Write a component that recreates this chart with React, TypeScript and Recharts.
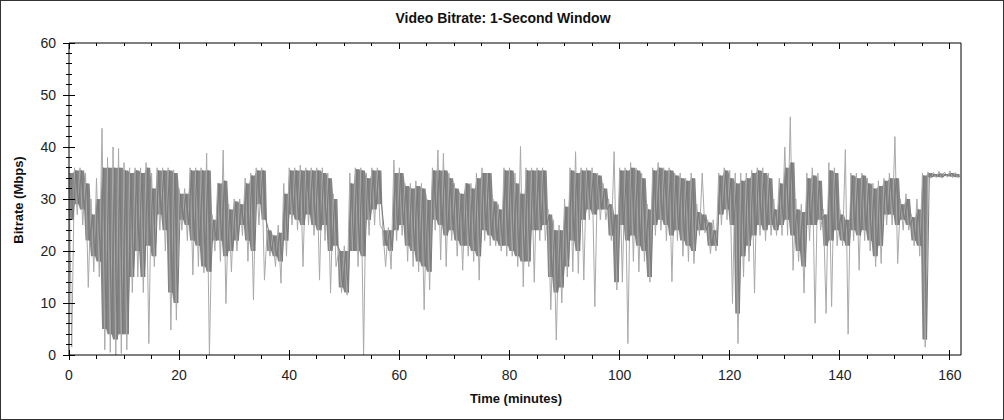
import React from "react";
import { ComposedChart, Area, Line, XAxis, YAxis } from "recharts";

// per-minute readings (Mbps): spike extremes and the dense core band
const peak = [
	36, 36, 36, 35, 30, 34, 43.6, 38, 40, 39.7,
	37, 36, 36, 36, 37, 35, 36, 36, 36, 35.6,
	32, 32, 36, 36, 36, 38.8, 27, 33, 39.4, 29,
	30, 30, 34, 35, 36, 36, 24, 23, 25, 33,
	36, 36, 36.5, 36, 36, 36, 36, 35, 31, 20,
	21, 35, 36, 36, 35, 36, 36, 24, 24.5, 37.5,
	36, 33, 33, 33.5, 33, 30, 36, 39.4, 38.8, 35,
	33, 31, 33, 33, 35, 36, 35, 30, 29, 36,
	36, 35, 40.1, 36, 36, 36, 36, 28, 26, 25,
	30, 36, 39.1, 36, 36, 36, 35, 33, 30, 39.1,
	36, 36, 37, 36, 35, 29, 36, 37, 36, 36,
	35, 35, 34, 35, 29, 35, 26, 26, 35, 36,
	35.5, 35, 35, 35, 35.5, 36, 36, 35, 30, 34,
	40, 45.8, 30, 29, 35, 36, 35, 28, 37, 36,
	28, 39.5, 35, 35, 35, 34, 33, 33.5, 34, 35,
	42, 30, 31, 27, 30, 35, 35.2, 35.1, 35.3, 35.2, 35.4, 35.1,
];

const upper = [
	35, 35.5, 35.5, 33, 27, 30, 36, 36, 36, 36,
	35.5, 35, 35.5, 35, 36, 32, 35.5, 35.5, 35.5, 35,
	31, 31, 35.5, 35.5, 35.5, 35.5, 26, 33, 33.5, 28,
	29.5, 29, 33, 34.5, 35.5, 35.5, 24, 23, 23.5, 31,
	35.5, 35.5, 35.5, 35.5, 35.5, 35.5, 35, 34, 30, 20,
	20, 33, 35.7, 35.5, 34, 35.5, 35.5, 24, 24, 35,
	35, 32.5, 32, 32.5, 32, 29.8, 35.5, 35.5, 35.5, 34,
	32, 31, 33, 32, 34, 35, 35, 29.5, 28, 35.5,
	35.5, 33, 31, 35.5, 35.5, 35.5, 35.5, 27, 24, 24,
	28.5, 35.5, 35, 35.5, 35.5, 35, 34.5, 32, 29, 27,
	35.5, 35.5, 36, 35.5, 34, 28, 35.5, 36, 35.5, 35.5,
	34.5, 34, 33.5, 34, 27.5, 27, 25.5, 24, 34.5, 35.5,
	34, 33, 33.5, 34, 35, 35.5, 35, 34, 28, 33,
	36, 37, 28, 27.5, 34, 34.5, 33.5, 27, 35.5, 35,
	27, 26, 34.5, 34, 34.5, 33, 32, 32.5, 33.5, 34,
	34, 29, 30, 26.5, 28, 34.5, 35, 34.8, 34.9, 34.8, 35, 34.8,
];

const lower = [
	26, 29, 28, 22, 19, 18, 5, 4, 3, 4,
	4, 15, 20, 15, 21, 19, 27, 24, 12, 10,
	26, 25, 22, 21, 17, 16, 22, 22, 19, 20,
	22, 25, 22, 20, 29, 26, 20, 19, 18, 22,
	27, 26, 25, 27, 25, 24, 25, 20, 21, 13,
	12, 20, 20, 19, 26, 28, 29, 21, 20, 24,
	25, 21, 20, 18, 17, 16, 26, 25, 23, 24,
	22, 21, 21, 20, 19, 24, 23, 22, 21, 21,
	20, 19, 18, 18, 24, 24, 25, 15, 12, 13,
	17, 22, 20, 26, 28, 27, 28, 28, 23, 14,
	25, 22, 23, 21, 20, 15, 25, 26, 25, 23,
	24, 22, 21, 20, 24, 24, 21, 21, 27, 28,
	25, 8, 19, 21, 23, 25, 24, 25, 24, 25,
	26, 23, 20, 17, 25, 25, 26, 21, 22, 24,
	22, 21, 24, 23, 24, 22, 19, 21, 27, 27,
	25, 26, 25, 22, 21, 3, 34.2, 34.3, 34.2, 34.4, 34.3, 34.2,
];

const trough = [
	1.5, 27, 25, 13, 16, 15, 1, 0.5, 0, 0.3,
	1, 12, 15, 12, 2.2, 17, 24, 20, 4.8, 6.7,
	24, 22, 15.4, 17, 15.8, 0, 20, 18, 9.9, 16,
	20, 23, 18, 10.6, 25, 14.4, 19, 17, 13.8, 19,
	25, 24, 17, 25, 23, 14.4, 22, 11.9, 17, 12,
	11.5, 20, 17, 0, 23, 25, 25, 17, 16.5, 22,
	23, 18, 17, 16, 8.7, 12.5, 24, 18.3, 17, 22,
	19, 16.3, 19, 18, 14.4, 22, 21, 21, 20, 19,
	19, 17, 13.1, 17, 14, 22, 22, 8.7, 2.9, 10,
	15, 16, 15.7, 14.4, 26, 9.3, 26, 26, 22, 12.5,
	14, 2.2, 18, 16, 18, 14, 23, 24, 22, 14.1,
	22, 19, 18, 17.6, 23, 23.5, 19.5, 20, 25, 26,
	9.9, 2.2, 15, 18, 11.9, 23, 22, 23, 23, 23,
	23, 16.3, 18, 11.9, 22, 6.1, 24, 8, 9.3, 21,
	21, 4, 22, 16.3, 22, 20, 17, 17.6, 25, 25,
	17.6, 24, 24, 21, 19, 1.5, 34, 34.1, 34, 34.2, 34.1, 34,
];

const xTicks = [
	0, 5, 10, 15, 20, 25, 30, 35, 40, 45, 50, 55, 60, 65, 70, 75, 80, 85, 90,
	95, 100, 105, 110, 115, 120, 125, 130, 135, 140, 145, 150, 155, 160,
];
const yTicks = [
	0, 2, 4, 6, 8, 10, 12, 14, 16, 18, 20, 22, 24, 26, 28, 30, 32, 34, 36, 38,
	40, 42, 44, 46, 48, 50, 52, 54, 56, 58, 60,
];

// four samples per minute: spike top, core top, spike bottom, core bottom
const chartData: { t: number; spike?: number; core?: number; band: number[] }[] = [];
peak.forEach((p, i) => {
	const band = [lower[i], upper[i]];
	chartData.push({ t: i, spike: p, band });
	chartData.push({ t: i + 0.25, core: upper[i], band });
	chartData.push({ t: i + 0.5, spike: trough[i], band });
	chartData.push({ t: i + 0.75, core: lower[i], band });
});

const font = "'Liberation Sans', Arial, sans-serif";

const LeftTick = ({ x, y, payload }: any) => {
	const major = payload.value % 10 === 0;
	const d = major ? 6 : 3;
	return (
		<g>
			<line x1={x - d} x2={x + d} y1={y} y2={y} stroke="#000" shapeRendering="crispEdges" />
			{major && (
				<text x={x - 13} y={y + 5} textAnchor="end" fontSize={14} fill="#222" fontFamily={font}>
					{payload.value}
				</text>
			)}
		</g>
	);
};

const RightTick = ({ x, y, payload }: any) => {
	const major = payload.value % 10 === 0;
	const d = major ? 6 : 3;
	return (
		<g>
			<line x1={x - d} x2={x + d} y1={y} y2={y} stroke="#000" shapeRendering="crispEdges" />
			{major && (
				<text x={x + 12} y={y + 5} textAnchor="start" fontSize={14} fill="#222" fontFamily={font}>
					{payload.value}
				</text>
			)}
		</g>
	);
};

const BottomTick = ({ x, y, payload }: any) => {
	const major = payload.value % 20 === 0;
	return (
		<g>
			<line x1={x} x2={x} y1={major ? y - 5 : y} y2={major ? y + 5 : y + 4} stroke="#000" shapeRendering="crispEdges" />
			{major && (
				<text x={x} y={y + 25} textAnchor="middle" fontSize={14} fill="#222" fontFamily={font}>
					{payload.value}
				</text>
			)}
		</g>
	);
};

const TopTick = ({ x, y, payload }: any) => {
	const major = payload.value % 20 === 0;
	return <line x1={x} x2={x} y1={y} y2={y + (major ? 6 : 3)} stroke="#000" shapeRendering="crispEdges" />;
};

export default function App() {
	return (
		<div
			style={{
				position: "absolute",
				left: 0,
				top: 0,
				width: 1004,
				height: 420,
				boxSizing: "border-box",
				border: "1px solid #333",
				background: "#fff",
				fontFamily: font,
			}}
		>
			<div style={{ position: "absolute", left: 0, width: 1004, top: 9, textAlign: "center", fontSize: 14, fontWeight: "bold", color: "#111" }}>
				Video Bitrate: 1-Second Window
			</div>
			<div
				style={{
					position: "absolute",
					left: 17,
					top: 199,
					transform: "translate(-50%, -50%) rotate(-90deg)",
					whiteSpace: "nowrap",
					fontSize: 13,
					fontWeight: "bold",
					color: "#111",
				}}
			>
				Bitrate (Mbps)
			</div>
			<div style={{ position: "absolute", left: 0, width: 1030, top: 390, textAlign: "center", fontSize: 13, fontWeight: "bold", color: "#111" }}>
				Time (minutes)
			</div>
			<div style={{ position: "absolute", left: -1, top: -1 }}>
				<ComposedChart width={1004} height={420} data={chartData} margin={{ top: 33, right: 3, bottom: 35, left: 29 }}>
					<XAxis
						dataKey="t"
						type="number"
						domain={[0, 162]}
						ticks={xTicks}
						interval={0}
						tickLine={false}
						tickSize={0}
						tickMargin={0}
						tick={<BottomTick />}
						axisLine={{ stroke: "#000" }}
						height={30}
					/>
					<XAxis
						xAxisId="top"
						orientation="top"
						dataKey="t"
						type="number"
						domain={[0, 162]}
						ticks={xTicks}
						interval={0}
						tickLine={false}
						tickSize={0}
						tickMargin={0}
						tick={<TopTick />}
						axisLine={{ stroke: "#000" }}
						height={10}
					/>
					<YAxis
						type="number"
						domain={[0, 60]}
						ticks={yTicks}
						interval={0}
						tickLine={false}
						tickSize={0}
						tickMargin={0}
						tick={<LeftTick />}
						axisLine={{ stroke: "#000" }}
						width={40}
					/>
					<YAxis
						yAxisId="right"
						orientation="right"
						type="number"
						domain={[0, 60]}
						ticks={yTicks}
						interval={0}
						tickLine={false}
						tickSize={0}
						tickMargin={0}
						tick={<RightTick />}
						axisLine={{ stroke: "#000" }}
						width={40}
					/>
					<Line
						dataKey="spike"
						type="linear"
						stroke="#a9a9a9"
						strokeWidth={1}
						dot={false}
						connectNulls
						isAnimationActive={false}
					/>
					<Area
						dataKey="band"
						type="linear"
						stroke="none"
						fill="#858585"
						fillOpacity={1}
						isAnimationActive={false}
					/>
					<Line
						dataKey="core"
						type="linear"
						stroke="#7a7a7a"
						strokeWidth={1}
						dot={false}
						connectNulls
						isAnimationActive={false}
					/>
				</ComposedChart>
			</div>
		</div>
	);
}
